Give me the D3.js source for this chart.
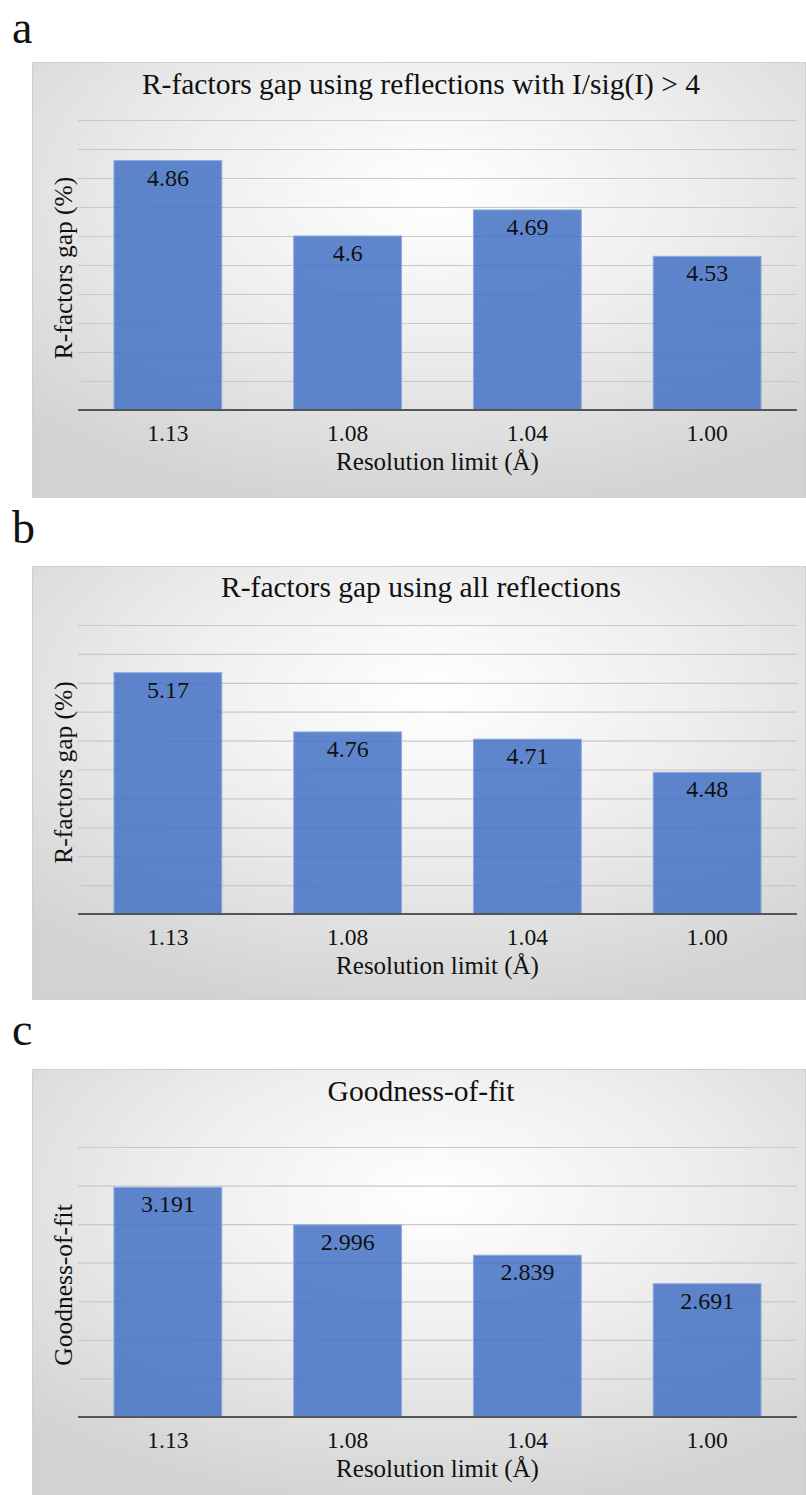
<!DOCTYPE html>
<html>
<head>
<meta charset="utf-8">
<script src="https://cdn.jsdelivr.net/npm/d3@7/dist/d3.min.js"></script>
</head>
<body style="margin:0;background:#ffffff">
<svg id="fig" width="806" height="1495" style="display:block"></svg>
<script>
// Resolution limits (Å) shared by all three panels
const categories = ["1.13", "1.08", "1.04", "1.00"];

// Panel a: R-factors gap (%) from reflections with I/sig(I) > 4
const gapStrong = [4.86, 4.6, 4.69, 4.53];
// Panel b: R-factors gap (%) from all reflections
const gapAll = [5.17, 4.76, 4.71, 4.48];
// Panel c: goodness-of-fit
const goodnessOfFit = [3.191, 2.996, 2.839, 2.691];

// Value-axis ranges and gridline steps
const axisA = [4.0, 5.0, 0.1];
const axisB = [3.5, 5.5, 0.2];
const axisC = [2.0, 3.4, 0.2];

const panelLetters = ["a", "b", "c"];
const panelTitles = [
  "R-factors gap using reflections with I/sig(I) > 4",
  "R-factors gap using all reflections",
  "Goodness-of-fit"
];
const yTitles = ["R-factors gap (%)", "R-factors gap (%)", "Goodness-of-fit"];
const xTitle = "Resolution limit (Å)";

const FONT = "\"Liberation Serif\", serif";

const panels = [
  { letter: panelLetters[0], title: panelTitles[0], yTitle: yTitles[0], values: gapStrong, axis: axisA,
    letterY: 43, boxTop: 62, boxBottom: 497, gridTop: 120, base: 410, titleY: 94 },
  { letter: panelLetters[1], title: panelTitles[1], yTitle: yTitles[1], values: gapAll, axis: axisB,
    letterY: 543, boxTop: 566, boxBottom: 999, gridTop: 625, base: 914, titleY: 597 },
  { letter: panelLetters[2], title: panelTitles[2], yTitle: yTitles[2], values: goodnessOfFit, axis: axisC,
    letterY: 1045, boxTop: 1069, boxBottom: 1495, gridTop: 1147, base: 1417, titleY: 1101 }
];

const svg = d3.select("#fig");
const boxLeft = 32, boxRight = 805;
const plotLeft = 78, plotRight = 797;

// Soft radial shading used as the chart-area fill
const defs = svg.append("defs");
const grad = defs.append("radialGradient")
  .attr("id", "bgShade")
  .attr("cx", "52%").attr("cy", "30%").attr("r", "75%");
grad.append("stop").attr("offset", "0%").attr("stop-color", "#ffffff");
grad.append("stop").attr("offset", "45%").attr("stop-color", "#eeeeee");
grad.append("stop").attr("offset", "100%").attr("stop-color", "#d2d2d2");

const x = d3.scaleBand()
  .domain(categories)
  .range([plotLeft, plotRight])
  .paddingInner(0.4)
  .paddingOuter(0.2);

function label(sel, size) {
  return sel.style("font-family", FONT)
    .style("font-size", size + "px").attr("fill", "#111111");
}

panels.forEach(p => {
  const g = svg.append("g");

  // Panel letter
  g.append("text")
    .attr("x", 12).attr("y", p.letterY)
    .call(label, 46)
    .text(p.letter);

  // Chart area
  g.append("rect")
    .attr("x", boxLeft + 0.5).attr("y", p.boxTop + 0.5)
    .attr("width", boxRight - boxLeft).attr("height", p.boxBottom - p.boxTop)
    .attr("fill", "url(#bgShade)")
    .attr("stroke", "#cfcfcf").attr("stroke-width", 1);

  const [lo, hi, step] = p.axis;
  const y = d3.scaleLinear().domain([lo, hi]).range([p.base, p.gridTop]);
  const gridVals = d3.range(Math.round((hi - lo) / step)).map(i => +(lo + (i + 1) * step).toFixed(3));

  // Horizontal gridlines
  g.append("g")
    .attr("transform", `translate(${plotLeft},0)`)
    .call(d3.axisLeft(y).tickValues(gridVals).tickSize(-(plotRight - plotLeft)).tickFormat(""))
    .call(a => a.select(".domain").remove())
    .call(a => a.selectAll("line").attr("stroke", "#c8c8c8").attr("stroke-width", 1.2));

  // Bars
  g.append("g").selectAll("rect")
    .data(p.values)
    .join("rect")
    .attr("x", (d, i) => x(categories[i]))
    .attr("y", d => y(d))
    .attr("width", x.bandwidth())
    .attr("height", d => p.base - y(d))
    .attr("fill", "#4472c4")
    .attr("fill-opacity", 0.85)
    .attr("stroke", "#8eaadf")
    .attr("stroke-width", 1);

  // Value labels inside the bar tops
  g.append("g").selectAll("text")
    .data(p.values)
    .join("text")
    .attr("x", (d, i) => x(categories[i]) + x.bandwidth() / 2)
    .attr("y", d => y(d) + 25)
    .attr("text-anchor", "middle")
    .call(label, 24)
    .text(d => String(d));

  // Category axis
  g.append("g")
    .attr("transform", `translate(0,${p.base})`)
    .call(d3.axisBottom(x).tickSize(0).tickPadding(0))
    .call(a => a.select(".domain").attr("stroke", "#555555").attr("stroke-width", 2)
      .attr("d", `M${plotLeft},0H${plotRight}`))
    .call(a => a.selectAll(".tick text")
      .attr("y", 31).attr("dy", null)
      .call(label, 23.5));

  // Titles
  g.append("text")
    .attr("x", 421).attr("y", p.titleY)
    .attr("text-anchor", "middle")
    .call(label, 29.5)
    .text(p.title);

  g.append("text")
    .attr("x", (plotLeft + plotRight) / 2).attr("y", p.base + 60)
    .attr("text-anchor", "middle")
    .call(label, 25)
    .text(xTitle);

  g.append("text")
    .attr("transform", `translate(72,${(p.gridTop + p.base) / 2 + 3}) rotate(-90)`)
    .attr("text-anchor", "middle")
    .call(label, 25.5)
    .text(p.yTitle);
});
</script>
</body>
</html>
